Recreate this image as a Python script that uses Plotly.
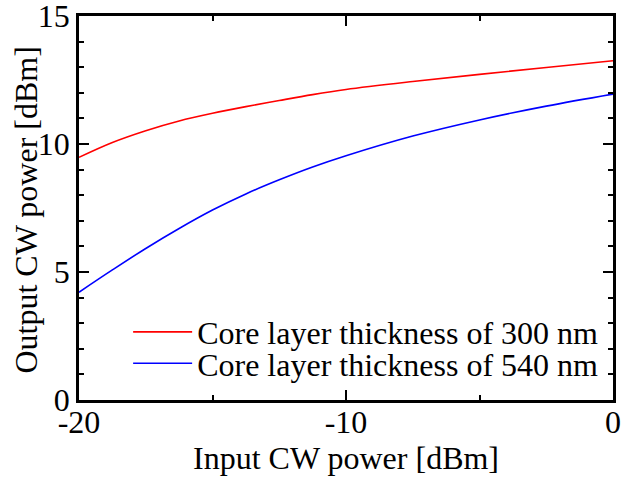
import plotly.graph_objects as go

x_in = [-20, -18.75, -17.5, -16.25, -15, -13.75, -12.5, -11.25, -10, -7.5, -5, -2.5, 0]
red_300 = [9.48, 10.06, 10.52, 10.9, 11.2, 11.46, 11.7, 11.93, 12.13, 12.44, 12.72, 12.99, 13.25]
blue_540 = [4.21, 5.08, 5.92, 6.7, 7.42, 8.05, 8.6, 9.1, 9.54, 10.31, 10.94, 11.48, 11.95]
names = ["Core layer thickness of 300 nm", "Core layer thickness of 540 nm"]

FONT = "Liberation Serif, Times New Roman, serif"
FS = 32

fig = go.Figure()
fig.add_trace(go.Scatter(x=x_in, y=red_300, mode="lines", name=names[0], legend="legend",
                         line=dict(color="#ff0000", width=1.6, shape="spline", smoothing=1)))
fig.add_trace(go.Scatter(x=x_in, y=blue_540, mode="lines", name=names[1], legend="legend2",
                         line=dict(color="#0000ff", width=1.6, shape="spline", smoothing=1)))

axis_common = dict(showline=True, linecolor="black", linewidth=2.5, mirror="ticks",
                   ticks="inside", ticklen=10, tickwidth=2, tickcolor="black",
                   showgrid=False, zeroline=False, ticklabeloverflow="allow", automargin=False,
                   tickfont=dict(family=FONT, size=FS, color="black"))

fig.update_xaxes(range=[-20, 0], tickvals=[-20, -10, 0], ticktext=["-20", "-10", "0"],
                 ticklabelstandoff=-8,
                 minor=dict(dtick=5, tick0=0, ticks="inside", ticklen=5, tickwidth=2, tickcolor="black"),
                 title=dict(text="Input CW power [dBm]", font=dict(family=FONT, size=FS, color="black"), standoff=6),
                 **axis_common)
fig.update_yaxes(range=[0, 15], tickvals=[0, 5, 10, 15],
                 minor=dict(dtick=1, tick0=0, ticks="inside", ticklen=5, tickwidth=2, tickcolor="black"),
                 **axis_common)

fig.add_annotation(text="Output CW power [dBm]", textangle=-90, xref="paper", yref="paper",
                   x=-0.1, y=0.495, xanchor="center", yanchor="middle", showarrow=False,
                   font=dict(family=FONT, size=FS, color="black"))

leg_common = dict(xanchor="left", yanchor="middle", bgcolor="rgba(0,0,0,0)", borderwidth=0,
                  font=dict(family=FONT, size=FS, color="black"), itemwidth=59)

fig.update_layout(
    width=622, height=484,
    margin=dict(l=79, r=9, t=16, b=84, autoexpand=False),
    paper_bgcolor="white", plot_bgcolor="white",
    font=dict(family=FONT, size=FS, color="black"),
    showlegend=True,
    legend=dict(x=0.092, y=0.177, **leg_common),
    legend2=dict(x=0.092, y=0.095, **leg_common),
)

fig.write_html("out.html")
